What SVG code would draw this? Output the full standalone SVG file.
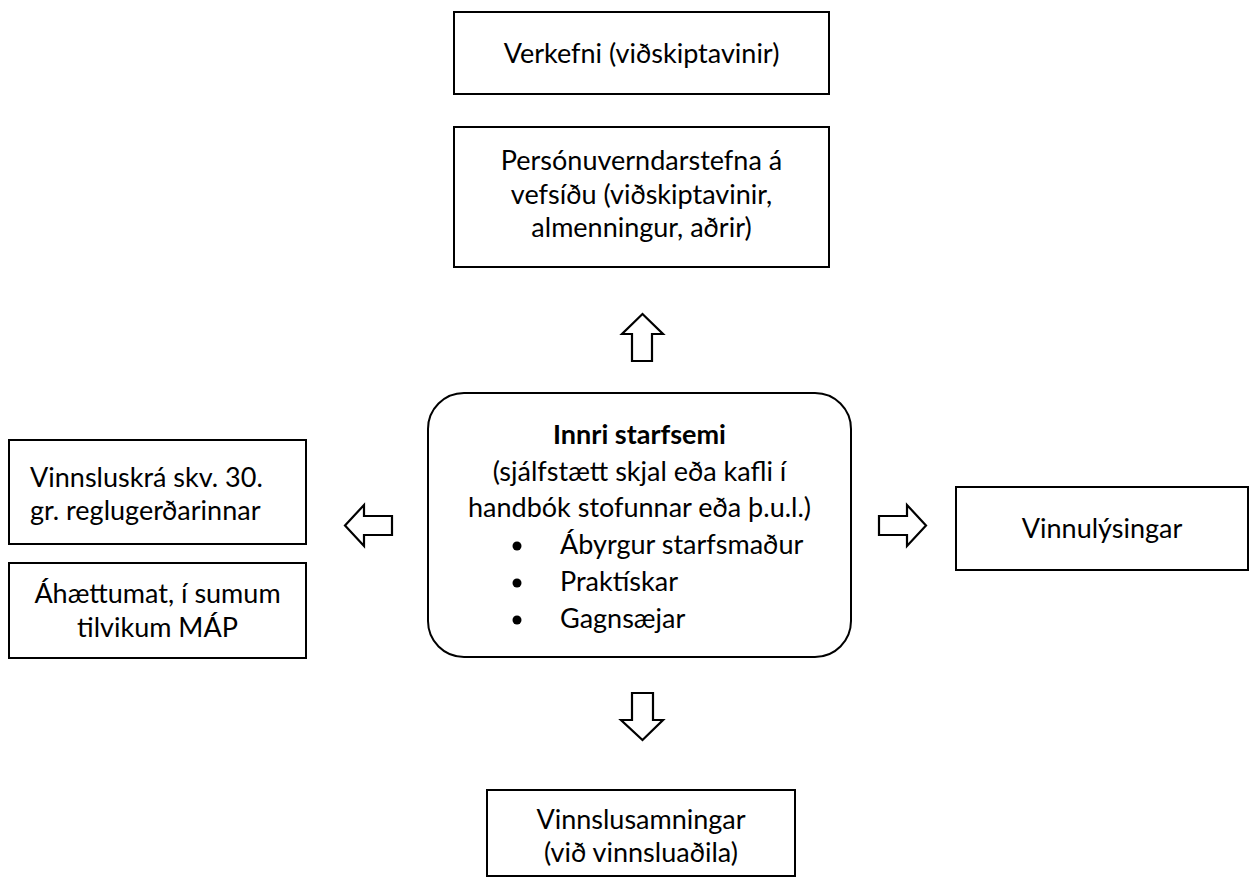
<svg xmlns="http://www.w3.org/2000/svg" width="1250" height="877" viewBox="0 0 1250 877">
<style>
.box{fill:#fff;stroke:#000;stroke-width:2}
.arr{fill:#fff;stroke:#000;stroke-width:2.2;stroke-linejoin:miter}
text{font-family:Lato,"Open Sans","Liberation Sans",sans-serif;font-size:27px;fill:#000}
.c{text-anchor:middle}
.b{font-weight:bold}
</style>
<rect width="1250" height="877" fill="#fff"/>
<g id="verkefni">
<rect class="box" x="454" y="12" width="375" height="82"/>
<text class="c" x="641.5" y="63">Verkefni (viðskiptavinir)</text>
</g>
<g id="personuvernd">
<rect class="box" x="454" y="127" width="375" height="140"/>
<text class="c" x="641.5" y="170">Persónuverndarstefna á</text>
<text class="c" x="641.5" y="204">vefsíðu (viðskiptavinir,</text>
<text class="c" x="641.5" y="237">almenningur, aðrir)</text>
</g>
<g id="innri">
<rect class="box" x="428" y="393" width="423" height="264" rx="36" ry="36"/>
<text class="c b" x="639.5" y="444">Innri starfsemi</text>
<text class="c" x="639.5" y="481">(sjálfstætt skjal eða kafli í</text>
<text class="c" x="639.5" y="517">handbók stofunnar eða þ.u.l.)</text>
<circle cx="517" cy="546" r="4.5"/>
<text x="560" y="554">Ábyrgur starfsmaður</text>
<circle cx="517" cy="583" r="4.5"/>
<text x="560" y="591">Praktískar</text>
<circle cx="517" cy="620" r="4.5"/>
<text x="560" y="628">Gagnsæjar</text>
</g>
<g id="vinnsluskra">
<rect class="box" x="9" y="440" width="297" height="104"/>
<text x="30" y="487">Vinnsluskrá skv. 30.</text>
<text x="30" y="520">gr. reglugerðarinnar</text>
</g>
<g id="ahaettumat">
<rect class="box" x="9" y="563" width="297" height="95"/>
<text class="c" x="157.5" y="603">Áhættumat, í sumum</text>
<text class="c" x="157.5" y="637">tilvikum MÁP</text>
</g>
<g id="vinnulysingar">
<rect class="box" x="956" y="487" width="292" height="83"/>
<text class="c" x="1102" y="538">Vinnulýsingar</text>
</g>
<g id="vinnslusamningar">
<rect class="box" x="487" y="790" width="308" height="86"/>
<text class="c" x="641" y="829">Vinnslusamningar</text>
<text class="c" x="641" y="862">(við vinnsluaðila)</text>
</g>
<g id="connectors">
<polygon class="arr" points="642.5,314 663,334 652,334 652,361 632,361 632,334 622,334"/>
<polygon class="arr" points="345,525.5 364,505 364,516 392,516 392,535 364,535 364,546"/>
<polygon class="arr" points="926,525.5 907,505 907,516 879,516 879,535 907,535 907,546"/>
<polygon class="arr" points="642.5,740 663,720 653,720 653,693 632,693 632,720 621,720"/>
</g>
</svg>
